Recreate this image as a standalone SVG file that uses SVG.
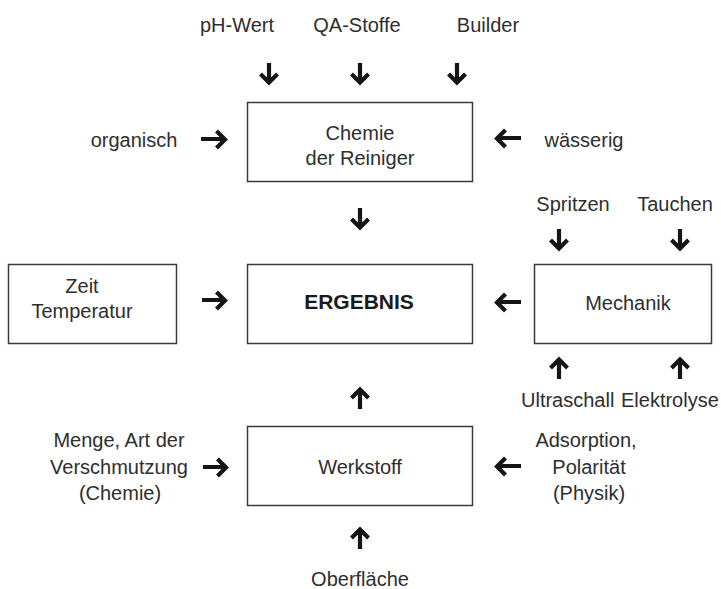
<svg xmlns="http://www.w3.org/2000/svg" width="721" height="589" viewBox="0 0 721 589">
<style>
  text { font-family: "Liberation Sans", Arial, sans-serif; font-size: 20px; fill: #2e2e2e; }
  .c { text-anchor: middle; }
  .b { font-weight: bold; font-size: 21px; fill: #1a1a1a; }
  .box { fill: #ffffff; stroke: #3a3a3a; stroke-width: 1.5; }
  .arr { fill: none; stroke: #151515; stroke-width: 4.2; stroke-linejoin: miter; stroke-linecap: butt; }
</style>
<rect width="721" height="589" fill="#ffffff"/>

<g id="node-chemie">
  <rect class="box" x="247.5" y="102.5" width="225" height="79"/>
  <text class="c" x="360" y="140">Chemie</text>
  <text class="c" x="360" y="165">der Reiniger</text>
</g>
<g id="node-ergebnis">
  <rect class="box" x="247.5" y="264.5" width="225" height="79"/>
  <text class="c b" x="359" y="309">ERGEBNIS</text>
</g>
<g id="node-zeit">
  <rect class="box" x="8.5" y="264.5" width="168" height="79"/>
  <text class="c" x="82" y="293">Zeit</text>
  <text class="c" x="82" y="318">Temperatur</text>
</g>
<g id="node-mechanik">
  <rect class="box" x="534.5" y="264.5" width="177" height="79"/>
  <text class="c" x="628" y="310">Mechanik</text>
</g>
<g id="node-werkstoff">
  <rect class="box" x="247.5" y="426.5" width="225" height="79"/>
  <text class="c" x="360" y="474">Werkstoff</text>
</g>

<g id="labels">
  <text class="c" x="237" y="32">pH-Wert</text>
  <text class="c" x="357" y="32">QA-Stoffe</text>
  <text class="c" x="488" y="32">Builder</text>
  <text class="c" x="134" y="147">organisch</text>
  <text class="c" x="584" y="147">wässerig</text>
  <text class="c" x="573" y="211">Spritzen</text>
  <text class="c" x="675" y="211">Tauchen</text>
  <text x="521" y="407">Ultraschall</text>
  <text x="621" y="407">Elektrolyse</text>
  <text class="c" x="119" y="447">Menge, Art der</text>
  <text class="c" x="119" y="474">Verschmutzung</text>
  <text class="c" x="120" y="500">(Chemie)</text>
  <text class="c" x="586" y="447">Adsorption,</text>
  <text class="c" x="589" y="474">Polarität</text>
  <text class="c" x="589" y="500">(Physik)</text>
  <text class="c" x="360" y="586">Oberfläche</text>
</g>

<g id="connectors">
  <!-- right-pointing -->
  <path class="arr" d="M201 139H224M216.5 131L225 139.5L216.5 148"/>
  <path class="arr" d="M202 300H224M216.5 292L225 300.5L216.5 309"/>
  <path class="arr" d="M203 467H225M217.5 459L226 467.5L217.5 476"/>
  <!-- left-pointing -->
  <path class="arr" d="M521 138H498M505.5 130L497 138.5L505.5 147"/>
  <path class="arr" d="M521 302H498M505.5 294L497 302.5L505.5 311"/>
  <path class="arr" d="M521 466H498M505.5 458L497 466.5L505.5 475"/>
  <!-- down-pointing -->
  <path class="arr" d="M269 63V81M260.5 74L269 82.5L277.5 74"/>
  <path class="arr" d="M360 63V81M351.5 74L360 82.5L368.5 74"/>
  <path class="arr" d="M457 63V81M448.5 74L457 82.5L465.5 74"/>
  <path class="arr" d="M360 208V226M351.5 219L360 227.5L368.5 219"/>
  <path class="arr" d="M559 229V247M550.5 240L559 248.5L567.5 240"/>
  <path class="arr" d="M680 229V247M671.5 240L680 248.5L688.5 240"/>
  <!-- up-pointing -->
  <path class="arr" d="M559 379V361M550.5 368L559 359.5L567.5 368"/>
  <path class="arr" d="M680 379V361M671.5 368L680 359.5L688.5 368"/>
  <path class="arr" d="M360 409V391M351.5 398L360 389.5L368.5 398"/>
  <path class="arr" d="M360 549V531M351.5 538L360 529.5L368.5 538"/>
</g>
</svg>
